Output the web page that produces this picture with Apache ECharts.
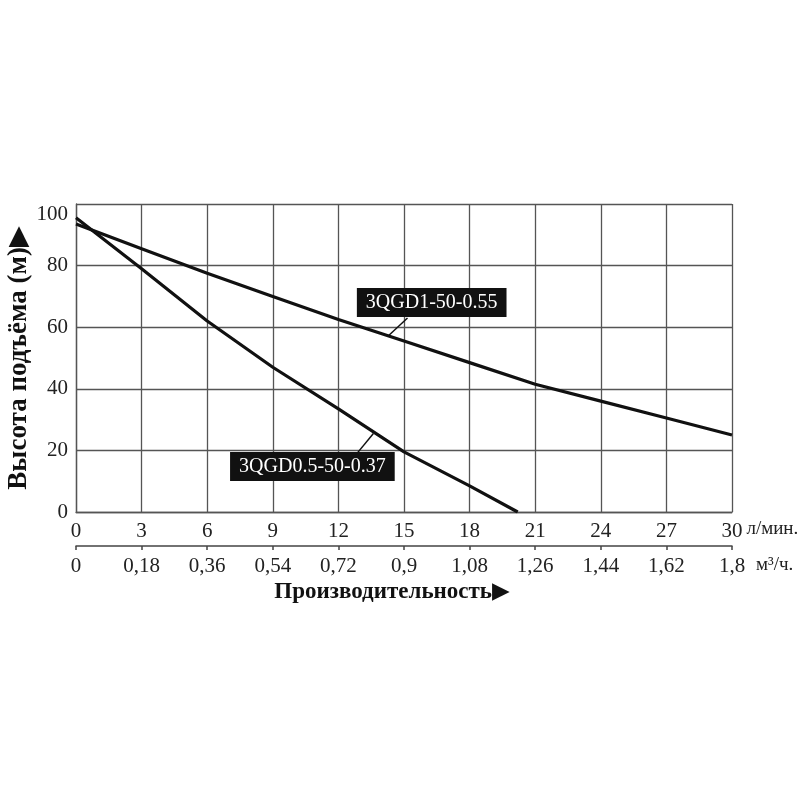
<!DOCTYPE html>
<html>
<head>
<meta charset="utf-8">
<title>Высота подъёма / Производительность</title>
<script src="https://cdn.jsdelivr.net/npm/echarts@6/dist/echarts.min.js"></script>
<style>
html, body { margin: 0; padding: 0; background: #fff; }
#main { width: 800px; height: 800px; }
</style>
</head>
<body>
<div id="main"></div>
<script>
//曲线数据：流量 л/мин. 与 扬程 м
var flowA = [0, 3, 6, 9, 12, 15, 18, 20.2];
var headA = [95.5, 79, 62, 47, 33.5, 19.5, 8.5, 0];
var flowB = [0, 3, 6, 9, 12, 15, 18, 21, 24, 27, 30];
var headB = [93.5, 85.5, 77.5, 70, 62.5, 55.5, 48.5, 41.5, 36, 30.5, 25];
var nameA = '3QGD0.5-50-0.37';
var nameB = '3QGD1-50-0.55';
//引线：曲线上的起点 -> 标注框边上的终点
var leaderA = [[13.6, 25.5], [12.87, 19.2]];
var leaderB = [[14.3, 57.3], [15.16, 63.0]];
//坐标轴刻度
var flowMax = 30;
var flowStep = 3;
var headMax = 100;
var headStep = 20;
var m3Max = 1.8;
var m3Step = 0.18;
var m3Labels = ['0', '0,18', '0,36', '0,54', '0,72', '0,9', '1,08', '1,26', '1,44', '1,62', '1,8'];

var FONT = '"Liberation Serif", "DejaVu Serif", serif';

initChart();

//把两个数组合成点
function zip(xs, ys) {
    var result = new Array();
    for (var i = 0; i < xs.length; i++) {
        result.push([xs[i], ys[i]]);
    }
    return result;
}

//曲线
function getCurveSeries(name, xs, ys) {
    return {
        name: name,
        type: 'line',
        data: zip(xs, ys),
        showSymbol: false,
        lineStyle: { color: '#111', width: 3.2 },
        z: 3
    };
}

//引线
function getLeaderSeries(points) {
    return {
        type: 'line',
        data: points,
        showSymbol: false,
        silent: true,
        lineStyle: { color: '#111', width: 1.5 },
        z: 4
    };
}

//标注框，挂在引线起点上再平移
function getTagSeries(anchor, text, dx, dy) {
    return {
        type: 'scatter',
        data: [anchor],
        symbolSize: 1,
        itemStyle: { color: 'rgba(0,0,0,0)', opacity: 1 },
        silent: true,
        z: 5,
        label: {
            show: true,
            position: 'inside',
            formatter: text,
            color: '#fff',
            opacity: 1,
            fontFamily: FONT,
            fontSize: 20,
            backgroundColor: '#111',
            padding: [5, 9, 4, 9]
        },
        labelLayout: { dx: dx, dy: dy }
    };
}

function initChart() {
    var myChart = echarts.init(document.getElementById('main'));
    var gridColor = '#555';
    var option = {
        animation: false,
        backgroundColor: '#fff',
        grid: {
            left: 76,
            right: 68,
            top: 204,
            bottom: 288,
            containLabel: false,
            outerBoundsMode: 'none'
        },
        xAxis: [{
            type: 'value',
            min: 0,
            max: flowMax,
            interval: flowStep,
            position: 'bottom',
            name: 'л/мин.',
            nameLocation: 'end',
            nameGap: 10,
            nameTextStyle: {
                fontFamily: FONT, fontSize: 19, color: '#222',
                verticalAlign: 'top', align: 'left', padding: [8, 0, 0, 0]
            },
            axisLine: { show: true, lineStyle: { color: gridColor, width: 1.3 } },
            axisTick: { show: false },
            axisLabel: { fontFamily: FONT, fontSize: 21, color: '#222', margin: 9 },
            splitLine: { show: true, lineStyle: { color: gridColor, width: 1.3 } }
        }, {
            type: 'value',
            min: 0,
            max: m3Max,
            interval: m3Step,
            position: 'bottom',
            offset: 34,
            name: 'Производительность▶',
            nameLocation: 'middle',
            nameGap: 35,
            nameTextStyle: {
                fontFamily: FONT, fontSize: 23, fontWeight: 'bold', color: '#111',
                padding: [0, 24, 0, 0]
            },
            axisLine: { show: true, lineStyle: { color: '#444', width: 1.5 } },
            axisTick: { show: true, length: 4, lineStyle: { color: '#444', width: 1.5 } },
            axisLabel: {
                fontFamily: FONT, fontSize: 21, color: '#222', margin: 10,
                formatter: function(v) {
                    return m3Labels[Math.round(v / m3Step)];
                }
            },
            splitLine: { show: false }
        }, {
            type: 'value',
            min: 0,
            max: m3Max,
            position: 'bottom',
            offset: 34,
            name: 'м³/ч.',
            nameLocation: 'end',
            nameGap: 24,
            nameTextStyle: {
                fontFamily: FONT, fontSize: 19, color: '#222',
                verticalAlign: 'top', align: 'left', padding: [10, 0, 0, 0]
            },
            axisLine: { show: false },
            axisTick: { show: false },
            axisLabel: { show: false },
            splitLine: { show: false }
        }],
        yAxis: [{
            type: 'value',
            min: 0,
            max: headMax,
            interval: headStep,
            name: 'Высота подъёма (м)▶',
            nameLocation: 'middle',
            nameRotate: 90,
            nameGap: 43,
            nameMoveOverlap: false,
            nameTextStyle: {
                fontFamily: FONT, fontSize: 27, fontWeight: 'bold', color: '#111'
            },
            axisLine: { show: true, lineStyle: { color: gridColor, width: 1.3 } },
            axisTick: { show: false },
            axisLabel: {
                fontFamily: FONT, fontSize: 21, color: '#222', margin: 8,
                formatter: function(v) {
                    //最上面的 100 落在格线下方
                    return v === headMax ? '{top|' + v + '}' : v;
                },
                rich: {
                    top: { fontFamily: FONT, fontSize: 21, color: '#222', padding: [20, 0, 0, 0] }
                }
            },
            splitLine: { show: true, lineStyle: { color: gridColor, width: 1.3 } }
        }],
        series: [
            getCurveSeries(nameA, flowA, headA),
            getCurveSeries(nameB, flowB, headB),
            getLeaderSeries(leaderA),
            getLeaderSeries(leaderB),
            getTagSeries(leaderA[0], nameA, -61, 33),
            getTagSeries(leaderB[0], nameB, 43, -33)
        ]
    };
    myChart.setOption(option);
}
</script>
</body>
</html>
